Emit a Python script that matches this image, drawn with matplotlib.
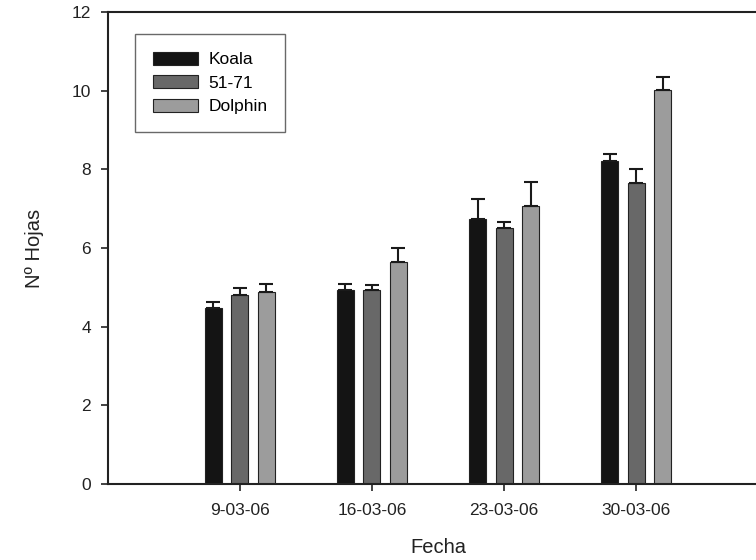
import matplotlib
matplotlib.use("Agg")
import matplotlib.pyplot as plt
import numpy as np

plt.rcParams['font.family'] = ['Liberation Sans', 'DejaVu Sans']

fechas = ["9-03-06", "16-03-06", "23-03-06", "30-03-06"]
series = ["Koala", "51-71", "Dolphin"]
koala = [4.47, 4.92, 6.75, 8.20]
koala_err = [0.15, 0.16, 0.50, 0.19]
l5171 = [4.81, 4.92, 6.50, 7.65]
l5171_err = [0.17, 0.13, 0.15, 0.35]
dolphin = [4.87, 5.65, 7.07, 10.02]
dolphin_err = [0.21, 0.35, 0.62, 0.34]
y_ticks = [0, 2, 4, 6, 8, 10, 12]

colors = ["#141414", "#686868", "#9c9c9c"]
values = [koala, l5171, dolphin]
errors = [koala_err, l5171_err, dolphin_err]

fig = plt.figure(figsize=(7.56, 5.6), dpi=100)
ax = fig.add_axes([107.5/756, 76/560, 661/756, 472/560])

x = np.arange(1, len(fechas) + 1)
offsets = [-0.2, 0.0, 0.2]
width = 0.13
for vals, errs, col, off, name in zip(values, errors, colors, offsets, series):
    ax.bar(x + off, vals, width, color=col, edgecolor="#222222", linewidth=0.8,
           label=name, zorder=2)
    ax.errorbar(x + off, vals, yerr=[np.zeros(len(errs)), errs], fmt="none",
                ecolor="#1a1a1a", elinewidth=1.5, capsize=5, capthick=1.5, zorder=3)

ax.set_xlim(0, 5)
ax.set_ylim(0, 12)
ax.set_xticks(x)
ax.set_xticklabels(fechas)
ax.set_yticks(y_ticks)
ax.tick_params(axis="both", labelsize=12.5, direction="out", length=5, width=1.2,
               colors="#222222")
ax.tick_params(axis="x", pad=9)
ax.tick_params(axis="y", pad=7)
for s in ["left", "bottom", "top"]:
    ax.spines[s].set_linewidth(1.5)
    ax.spines[s].set_color("#222222")
ax.spines["right"].set_visible(False)

ax.set_xlabel("Fecha", fontsize=14.5, labelpad=14, color="#222222")
ax.set_ylabel("Nº Hojas", fontsize=14.5, labelpad=20, color="#222222")

leg = ax.legend(loc="upper left", bbox_to_anchor=(0.042, 0.953), fontsize=12.5,
                frameon=True, fancybox=False, edgecolor="#444444",
                handlelength=2.6, handleheight=0.8, borderpad=1.0,
                labelspacing=0.45, handletextpad=0.6, borderaxespad=0)
leg.get_frame().set_linewidth(1.0)

fig.savefig("out.png", dpi=100)
